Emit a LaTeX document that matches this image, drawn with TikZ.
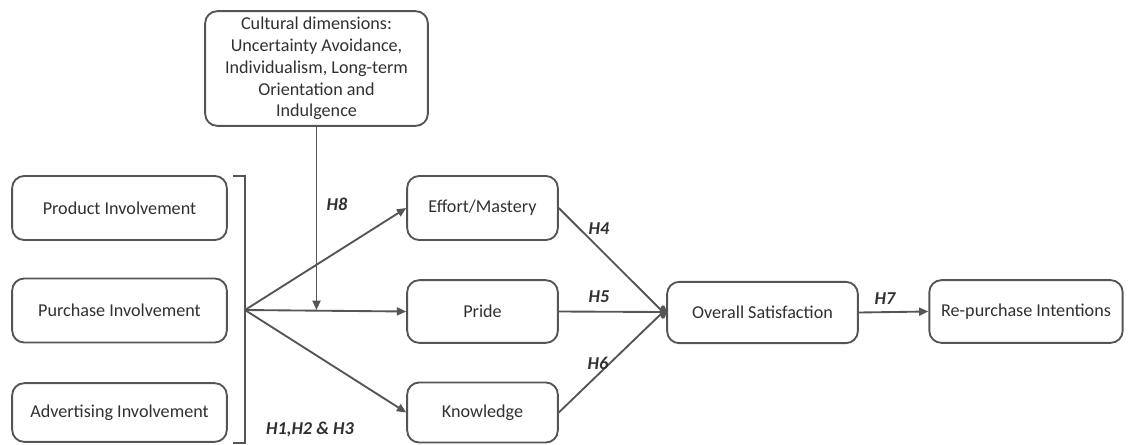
\documentclass[tikz,border=0pt]{standalone}
\usepackage{fontspec}
\setmainfont{Carlito}
\usetikzlibrary{arrows.meta}
\definecolor{edgegray}{HTML}{555555}
\definecolor{textgray}{HTML}{303030}
\tikzset{every picture/.style = {x=0.75pt, y=-0.75pt, line width=1.4pt, edgegray}}
\tikzset{block/.style = {draw, rounded corners=9pt, text=textgray, align=center,
  font=\fontsize{13.6}{16.4}\selectfont, inner sep=2pt}}
\tikzset{hyp/.style = {text=textgray, font=\fontsize{13.6}{16}\selectfont\bfseries\itshape}}
\tikzset{link/.style = {-{Triangle[length=7pt, width=6pt]}}}

\begin{document}
\begin{tikzpicture}
  \useasboundingbox (0, 0) rectangle (1129, 444);
  \node[block, minimum width=167pt, minimum height=86pt] (culture) at (316.5, 68.5)
    {Cultural dimensions:\\ Uncertainty Avoidance,\\ Individualism, Long-term\\ Orientation and\\ Indulgence};
  \node[block, minimum width=161pt, minimum height=48pt] (prodinv) at (119.5, 208) {Product Involvement};
  \node[block, minimum width=161pt, minimum height=48pt] (purinv) at (119.5, 310.5) {Purchase Involvement};
  \node[block, minimum width=161pt, minimum height=44pt] (advinv) at (119.5, 412.5) {Advertising Involvement};
  \node[block, minimum width=113pt, minimum height=48pt] (effort) at (482.5, 208) {Effort/Mastery};
  \node[block, minimum width=113pt, minimum height=47pt] (pride) at (482.5, 311.5) {Pride};
  \node[block, minimum width=113pt, minimum height=45pt] (knowl) at (482.5, 412.5) {Knowledge};
  \node[block, minimum width=143pt, minimum height=46pt] (satisf) at (762.5, 312.5) {Overall Satisfaction};
  \node[block, minimum width=145pt, minimum height=47pt] (repur) at (1026, 311.5) {Re-purchase Intentions};
  % bracket round the involvement boxes
  \draw (233, 176) -- (245, 176) coordinate (brtop) -- (245, 443) coordinate (brbot) -- (233, 443);
  \coordinate (fan) at (245, 310);
  \coordinate (join) at (663, 312);
  \coordinate (moder) at (culture.south |- fan);
  \fill (join) ellipse (2.4pt and 5pt);
  \draw[link] (fan) -- (effort.west);
  \draw[link] (fan) -- (pride.west);
  \draw[link] (fan) -- (knowl.west);
  \draw[link] (culture.south) -- (moder);
  \draw (effort.east) -- (join);
  \draw (pride.east) -- (join);
  \draw (knowl.east) -- (join);
  \draw[link] (satisf.east) -- (repur.west);
  \node[hyp] (h8) at (337, 204) {H8};
  \node[hyp] (h4) at (599, 229) {H4};
  \node[hyp] (h5) at (599, 297) {H5};
  \node[hyp] (h6) at (598, 363) {H6};
  \node[hyp] (h7) at (885, 299) {H7};
  \node[hyp] (h123) at (310, 429) {H1,H2 \& H3};
\end{tikzpicture}
\end{document}
